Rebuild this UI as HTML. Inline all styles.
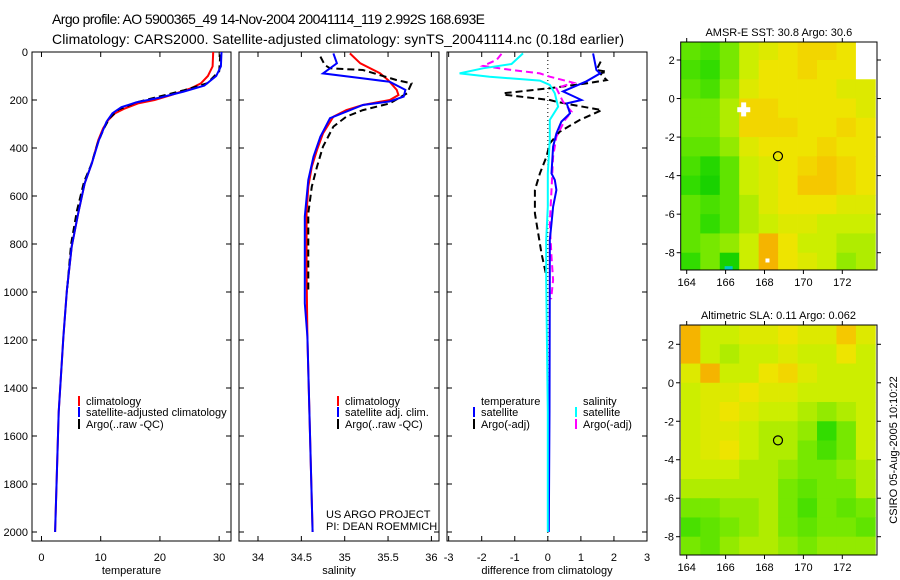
<!DOCTYPE html>
<html><head><meta charset="utf-8"><style>
html,body{margin:0;padding:0;background:#fff}
svg{display:block;font-family:"Liberation Sans",sans-serif}
</style></head><body>
<svg id="fig" width="900" height="580" viewBox="0 0 900 580" xmlns="http://www.w3.org/2000/svg">
<text x="52" y="24" font-size="14" textLength="433">Argo profile: AO 5900365_49 14-Nov-2004 20041114_119 2.992S 168.693E</text>
<text x="52" y="44" font-size="14" textLength="572">Climatology: CARS2000. Satellite-adjusted climatology: synTS_20041114.nc (0.18d earlier)</text>
<g id="plots"></g>
<text x="326" y="518" font-size="11">US ARGO PROJECT</text>
<text x="326" y="530" font-size="11">PI: DEAN ROEMMICH</text>
<text transform="translate(897,450) rotate(-90)" text-anchor="middle" font-size="11">CSIRO 05-Aug-2005 10:10:22</text>
</svg>
<script>
// ---- profile data (depth in m) ----
const tClimD=[0,60,100,131,151,179,200,214,235,256,283,318,367,464,547,672,811,992,1186,1500,2000];
const tClimV=[29,28.9,28.1,26.9,25.3,21.9,19.1,16.3,14.1,12.4,11.3,10.4,9.6,8.5,7.3,6.2,5.1,4.3,3.7,2.9,2.3];
const tSatD=[0,60,100,140,165,190,210,230,255,290,367,464,547,672,811,992,1186,1500,2000];
const tSatV=[30.4,30.3,29.5,27.5,24,20,16,13.5,12,11,9.7,8.5,7.3,6.2,5.1,4.3,3.7,2.9,2.3];
const tArgoD=[10,80,130,160,185,210,240,275,320,380,470,540,660,800,1000];
const tArgoV=[30.2,30,28,24,20,16,13,11.5,10.5,9.5,8.4,7.2,6,5,4.3];
const sClimD=[6,47,89,117,158,179,200,221,242,269,339,408,478,561,672,922,1186,2000];
const sClimV=[35.06,35.18,35.41,35.5,35.6,35.62,35.52,35.21,35.02,34.87,34.75,34.68,34.62,34.58,34.56,34.56,34.57,34.63];
const sSatD=[6,47,89,110,124,158,186,206,221,276,353,436,533,686,1047,1186,2000];
const sSatV=[34.87,34.91,34.75,35.21,35.52,35.7,35.68,35.52,35.21,34.83,34.72,34.64,34.58,34.54,34.54,34.57,34.63];
const sArgoD=[19,54,68,75,117,131,172,214,242,269,311,394,478,561,672,992];
const sArgoV=[34.72,34.77,34.83,35.21,35.6,35.77,35.72,35.52,35.21,35.02,34.87,34.75,34.68,34.62,34.58,34.58];
const dTSatD=[6,75,89,122,164,200,214,256,290,339,394,506,533,575,645,714,783,950,1500,2000];
const dTSatV=[1.37,1.47,1.58,1.17,0.46,1.02,0.57,0.67,0.41,0.26,0.16,0.11,0.21,0.26,0.16,0.11,0.06,0.06,0.05,0.03];
const dTArgoD=[40,75,82,89,117,131,151,172,179,200,207,221,242,283,332,381,436,506,575,672,756,839,922];
const dTArgoV=[1.6,1.47,1.78,1.58,1.78,1.17,0.06,-1.35,-1.25,0.06,0.26,0.77,1.63,0.97,0.36,0.06,-0.04,-0.24,-0.39,-0.39,-0.29,-0.19,-0.06];
const dSSatD=[6,50,68,89,103,119,137,172,228,283,367,506,645,783,950,1500,2000];
const dSSatV=[-0.75,-1.1,-1.96,-2.67,-1.76,-0.24,0.06,0.21,0.31,0.06,0.06,0,0,-0.05,-0.05,0,0];
const dSArgoD=[8,33,58,72,89,103,128,151,207,249,283,353,436,575,714,853,950,1030];
const dSArgoV=[-1.4,-1.55,-1.96,-1.25,-0.24,0.06,0.77,0.26,0.46,0.72,0.52,0.26,0.16,0.11,0.06,0.11,0.16,0.1];
// ---- map data: 1-degree cells, lon 163.7.., lat 3 downward; -1 = no data ----
const sstRow0=[0.3,0.25,0.35,0.5,0.55,0.6,0.65,0.65,0.6,-1];
const sstRow1=[0.25,0.2,0.35,0.5,0.6,0.6,0.65,0.6,0.6,-1];
const sstRow2=[0.3,0.25,0.4,0.55,0.6,0.6,0.6,0.6,0.55,0.55];
const sstRow3=[0.35,0.35,0.45,0.65,0.65,0.6,0.6,0.6,0.6,0.55];
const sstRow4=[0.35,0.35,0.45,0.65,0.65,0.65,0.6,0.6,0.65,0.6];
const sstRow5=[0.3,0.3,0.4,0.55,0.6,0.6,0.6,0.65,0.6,0.6];
const sstRow6=[0.25,0.15,0.3,0.5,0.55,0.6,0.65,0.7,0.65,0.6];
const sstRow7=[0.2,0.1,0.3,0.5,0.55,0.6,0.7,0.7,0.65,0.6];
const sstRow8=[0.3,0.25,0.3,0.45,0.55,0.6,0.6,0.6,0.55,0.55];
const sstRow9=[0.3,0.2,0.3,0.45,0.5,0.55,0.55,0.5,0.5,0.5];
const sstRow10=[0.3,0.35,0.4,0.5,0.75,0.6,0.5,0.5,0.45,0.45];
const sstRow11=[0.2,0.35,0.1,0.5,0.75,0.6,0.55,0.5,0.4,0.45];
const slaRow0=[0.75,0.5,0.5,0.55,0.55,0.6,0.55,0.55,0.7,0.55];
const slaRow1=[0.75,0.5,0.45,0.5,0.5,0.55,0.5,0.5,0.6,0.5];
const slaRow2=[0.55,0.75,0.5,0.5,0.6,0.65,0.55,0.5,0.5,0.5];
const slaRow3=[0.5,0.55,0.55,0.6,0.55,0.55,0.5,0.5,0.5,0.5];
const slaRow4=[0.5,0.55,0.6,0.55,0.5,0.5,0.45,0.4,0.45,0.5];
const slaRow5=[0.5,0.55,0.55,0.5,0.45,0.45,0.4,0.2,0.35,0.5];
const slaRow6=[0.5,0.55,0.6,0.5,0.45,0.45,0.35,0.25,0.35,0.5];
const slaRow7=[0.5,0.5,0.5,0.45,0.45,0.4,0.35,0.35,0.4,0.45];
const slaRow8=[0.45,0.45,0.45,0.45,0.45,0.35,0.3,0.35,0.35,0.45];
const slaRow9=[0.35,0.35,0.4,0.4,0.45,0.35,0.25,0.35,0.3,0.35];
const slaRow10=[0.25,0.3,0.35,0.4,0.45,0.35,0.3,0.35,0.35,0.3];
const slaRow11=[0.35,0.3,0.4,0.45,0.45,0.4,0.35,0.4,0.4,0.4];
const argoLon=168.693, argoLat=-2.992;
const depthTicks=[0,200,400,600,800,1000,1200,1400,1600,1800,2000];
const tTicks=[0,10,20,30], sTicks=[34,34.5,35,35.5,36], dTicks=[-3,-2,-1,0,1,2,3];
const lonTicks=[164,166,168,170,172], latTicks=[2,0,-2,-4,-6,-8];

const NS='http://www.w3.org/2000/svg';
const root=document.getElementById('plots');
function mk(tag,attrs,parent){const e=document.createElementNS(NS,tag);for(const k in attrs)e.setAttribute(k,attrs[k]);(parent||root).appendChild(e);return e;}
const Y=d=>52+0.24*d;
const TOP=52,BOT=541;
function panel(x0,x1,xmin,xmax,ticks,label,name){
  const g=mk('g',{});
  
  
  const X=v=>x0+(v-xmin)/(xmax-xmin)*(x1-x0);
  mk('rect',{x:x0,y:TOP,width:x1-x0,height:BOT-TOP,fill:'none',stroke:'#000','stroke-width':1},g);
  ticks.forEach(t=>{const x=X(t);
    mk('line',{x1:x,y1:TOP,x2:x,y2:TOP+5,stroke:'#000'},g);
    mk('line',{x1:x,y1:BOT,x2:x,y2:BOT-5,stroke:'#000'},g);
    const tx=mk('text',{x:x,y:561,'font-size':11,'text-anchor':'middle'},g);tx.textContent=t;
    
    
  });
  depthTicks.forEach(d=>{const y=Y(d);
    mk('line',{x1:x0,y1:y,x2:x0+5,y2:y,stroke:'#000'},g);
    mk('line',{x1:x1,y1:y,x2:x1-5,y2:y,stroke:'#000'},g);
  });
  const lb=mk('text',{x:(x0+x1)/2,y:574,'font-size':11,'text-anchor':'middle'},g);lb.textContent=label;
  
  
  return {g,X};
}
function line(p,vals,deps,color,dash,name,w){
  const pts=vals.map((v,i)=>p.X(v).toFixed(1)+','+Y(deps[i]).toFixed(1)).join(' ');
  const e=mk('polyline',{points:pts,fill:'none',stroke:color,'stroke-width':w||2,'stroke-dasharray':dash||'none'},p.g);
  
  
}
function legend(g,x,y,color,text,name){
  if(color){mk('rect',{x:x,y:y-9,width:2,height:10,fill:color},g);}
  const t=mk('text',{x:x+8,y:y,'font-size':11},g);t.textContent=text;
  
  
}
depthTicks.forEach(d=>{const t=mk('text',{x:28,y:Y(d)+4,'font-size':11,'text-anchor':'end'});t.textContent=d;
  
  });

const p1=panel(32,231,-1.6,32,tTicks,'temperature','temperature-panel');
line(p1,tClimV,tClimD,'#f00',null,'temp-climatology-line');
line(p1,tArgoV,tArgoD,'#000','7,4','temp-argo-line');
line(p1,tSatV,tSatD,'#00f',null,'temp-satellite-line');
legend(p1.g,78,405,'#f00','climatology','legend-climatology');
legend(p1.g,78,416,'#00f','satellite-adjusted climatology','legend-satellite');
legend(p1.g,78,428,'#000','Argo(..raw -QC)','legend-argo');

const p2=panel(239,439,(239-258)/86.7+34,(439-258)/86.7+34,sTicks,'salinity','salinity-panel');
line(p2,sClimV,sClimD,'#f00',null,'sal-climatology-line');
line(p2,sArgoV,sArgoD,'#000','7,4','sal-argo-line');
line(p2,sSatV,sSatD,'#00f',null,'sal-satellite-line');
legend(p2.g,337,405,'#f00','climatology','legend-climatology');
legend(p2.g,337,416,'#00f','satellite adj. clim.','legend-satellite');
legend(p2.g,337,428,'#000','Argo(..raw -QC)','legend-argo');

const p3=panel(447,647,-3.05,3,dTicks,'difference from climatology','difference-panel');
mk('line',{x1:p3.X(0),y1:TOP,x2:p3.X(0),y2:BOT,stroke:'#000','stroke-dasharray':'1,3'},p3.g);
line(p3,dTArgoV,dTArgoD,'#000','7,4','dtemp-argo-line');
line(p3,dSArgoV,dSArgoD,'#f0f','7,4','dsal-argo-line');
line(p3,dTSatV,dTSatD,'#00f',null,'dtemp-satellite-line');
line(p3,dSSatV,dSSatD,'#0ff',null,'dsal-satellite-line');
legend(p3.g,473,405,null,'temperature','legend-temperature-header');
legend(p3.g,473,416,'#00f','satellite','legend-temp-satellite');
legend(p3.g,473,428,'#000','Argo(-adj)','legend-temp-argo');
legend(p3.g,575,405,null,'salinity','legend-salinity-header');
legend(p3.g,575,416,'#0ff','satellite','legend-sal-satellite');
legend(p3.g,575,428,'#f0f','Argo(-adj)','legend-sal-argo');

// ---- maps ----
const stops=[[0,[0,200,0]],[0.2,[50,220,0]],[0.35,[119,232,0]],[0.5,[204,238,0]],[0.6,[238,228,0]],[0.7,[245,200,0]],[0.8,[245,160,0]]];
function cmap(v){if(v<0)return '#fff';for(let i=1;i<stops.length;i++){if(v<=stops[i][0]){const a=stops[i-1],b=stops[i],f=(v-a[0])/(b[0]-a[0]);return 'rgb('+a[1].map((c,k)=>Math.round(c+(b[1][k]-c)*f)).join(',')+')';}}return 'rgb(245,160,0)';}
function map(x0,x1,top,bot,lat2y,latm8y,rows,title,name,extra){
  const g=mk('g',{});
  
  
  const lonX=l=>686.7+(l-164)*19.45;
  const latY=l=>lat2y+(2-l)*(latm8y-lat2y)/10;
  const cid='clip'+name;
  const cp=mk('clipPath',{id:cid},g);mk('rect',{x:x0,y:top,width:x1-x0,height:bot-top},cp);
  const cg=mk('g',{'clip-path':'url(#'+cid+')'},g);
  rows.forEach((row,r)=>row.forEach((v,c)=>{
    const lon=163.7+c, lat=3-r;
    const e=mk('rect',{x:lonX(lon),y:latY(lat),width:19.8,height:(latm8y-lat2y)/10+0.5,fill:cmap(v)},cg);
    
    
  }));
  if(extra)extra(cg,lonX,latY);
  mk('rect',{x:x0,y:top,width:x1-x0,height:bot-top,fill:'none',stroke:'#000'},g);
  lonTicks.forEach(l=>{const x=lonX(l);mk('line',{x1:x,y1:top,x2:x,y2:top-4,stroke:'#000'},g);mk('line',{x1:x,y1:bot,x2:x,y2:bot+4,stroke:'#000'},g);
    const t=mk('text',{x:x,y:bot+16,'font-size':11,'text-anchor':'middle'},g);t.textContent=l;
    
    });
  latTicks.forEach(l=>{const y=latY(l);mk('line',{x1:x0,y1:y,x2:x0-4,y2:y,stroke:'#000'},g);mk('line',{x1:x1,y1:y,x2:x1+4,y2:y,stroke:'#000'},g);
    const t=mk('text',{x:x0-6,y:y+4,'font-size':11,'text-anchor':'end'},g);t.textContent=l;
    
    });
  const c=mk('circle',{cx:lonX(argoLon),cy:latY(argoLat),r:4.5,fill:'none',stroke:'#000','stroke-width':1.2},g);
  
  
  const t=mk('text',{x:(x0+x1)/2,y:top-6,'font-size':11,'text-anchor':'middle'},g);t.textContent=title;
  
  
}
map(680.7,877,42,270,60,252.7,[sstRow0,sstRow1,sstRow2,sstRow3,sstRow4,sstRow5,sstRow6,sstRow7,sstRow8,sstRow9,sstRow10,sstRow11],'AMSR-E SST: 30.8 Argo: 30.6','sst-map',(cg,lx,ly)=>{
  mk('rect',{x:lx(165.95),y:ly(-8.7),width:8,height:8,fill:'#00c8c8'},cg);
  mk('rect',{x:lx(166.8),y:ly(-0.2),width:5,height:14,fill:'#fff'},cg);
  mk('rect',{x:lx(166.6),y:ly(-0.45),width:13,height:5,fill:'#fff'},cg);
  mk('rect',{x:lx(168.05),y:ly(-8.3),width:4,height:4,fill:'#fff'},cg);
});
map(680,877,325,555,344.3,536.7,[slaRow0,slaRow1,slaRow2,slaRow3,slaRow4,slaRow5,slaRow6,slaRow7,slaRow8,slaRow9,slaRow10,slaRow11],'Altimetric SLA: 0.11 Argo: 0.062','sla-map',null);
</script>
</body></html>
